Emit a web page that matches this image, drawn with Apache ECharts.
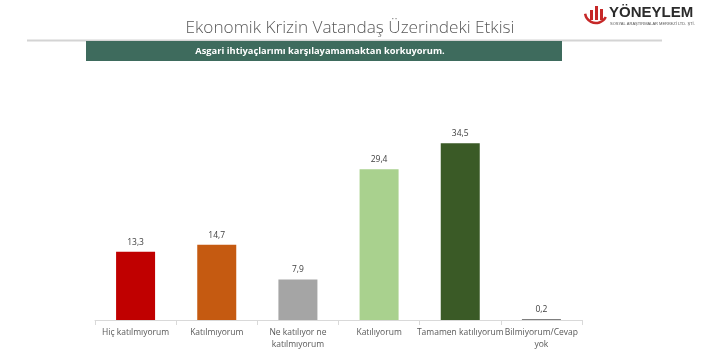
<!DOCTYPE html>
<html><head><meta charset="utf-8">
<script src="https://cdn.jsdelivr.net/npm/echarts@6/dist/echarts.min.js"></script>
<style>html,body{margin:0;padding:0;background:#fff}#c{width:702px;height:351px}</style>
</head><body><div id="c"></div>
<script>
const categories = ['Hiç katılmıyorum','Katılmıyorum','Ne katılıyor ne\nkatılmıyorum','Katılıyorum','Tamamen katılıyorum','Bilmiyorum/Cevap\nyok'];
const values = [13.3, 14.7, 7.9, 29.4, 34.5, 0.2];
const barColors = ['#c00000','#c55a11','#a5a5a5','#a9d18e','#3a5a26','#7f7f7f'];
const titleText = 'Ekonomik Krizin Vatandaş Üzerindeki Etkisi';
const bannerText = 'Asgari ihtiyaçlarımı karşılayamamaktan korkuyorum.';

const chart = echarts.init(document.getElementById('c'));
chart.setOption({
  animation: false,
  backgroundColor: '#fff',
  grid: {left: 95, right: 120, top: 115, bottom: 28},
  xAxis: {
    type: 'category', data: categories,
    axisLine: {lineStyle: {color: '#d9d9d9'}},
    axisTick: {show: true, length: 5, lineStyle: {color: '#d9d9d9'}},
    axisLabel: {color: '#595959', fontSize: 8.5, fontFamily: 'Open Sans', margin: 7, lineHeight: 12, interval: 0}
  },
  yAxis: {type: 'value', min: 0, max: 40, show: false, splitLine: {show: false}},
  series: [{
    type: 'bar', barWidth: 39,
    data: values.map((v, i) => ({value: v, itemStyle: {color: barColors[i]}})),
    label: {show: true, position: 'top', distance: 5, color: '#404040', fontSize: 8.5, fontFamily: 'Open Sans',
      formatter: p => String(p.value).replace('.', ',')}
  }],
  graphic: [
    {type: 'text', x: 350, y: 28, style: {text: titleText, fontSize: 17.2, fontFamily: 'Open Sans', fontWeight: 300, fill: '#595959', align: 'center', verticalAlign: 'middle'}},
    {type: 'rect', shape: {x: 27, y: 39.5, width: 635, height: 2}, style: {fill: '#d4d4d4'}},
    {type: 'rect', shape: {x: 86, y: 41, width: 476, height: 20}, style: {fill: '#3e6b5d'}},
    {type: 'text', x: 320, y: 51, style: {text: bannerText, fontSize: 9.3, fontWeight: 'bold', fontFamily: 'Open Sans', fill: '#fff', align: 'center', verticalAlign: 'middle'}},
    // logo
    {type: 'rect', shape: {x: 590, y: 10, width: 3, height: 10}, style: {fill: '#c62828'}},
    {type: 'rect', shape: {x: 595, y: 6, width: 3, height: 14}, style: {fill: '#c62828'}},
    {type: 'rect', shape: {x: 600, y: 9, width: 3, height: 11}, style: {fill: '#c62828'}},
    {type: 'arc', shape: {cx: 596, cy: 12, r: 11, startAngle: Math.PI*0.15, endAngle: Math.PI*0.95}, style: {stroke: '#c62828', lineWidth: 2.5, fill: null}},
    {type: 'text', x: 609, y: 5, style: {text: 'YÖNEYLEM', fontSize: 15, fontWeight: 'bold', fontFamily: 'Liberation Sans', fill: '#2b2b2b'}},
    {type: 'text', x: 610, y: 22, style: {text: 'SOSYAL ARAŞTIRMALAR MERKEZİ LTD. ŞTİ.', fontSize: 4, fontFamily: 'Liberation Sans', fill: '#555'}}
  ]
});
</script></body></html>
